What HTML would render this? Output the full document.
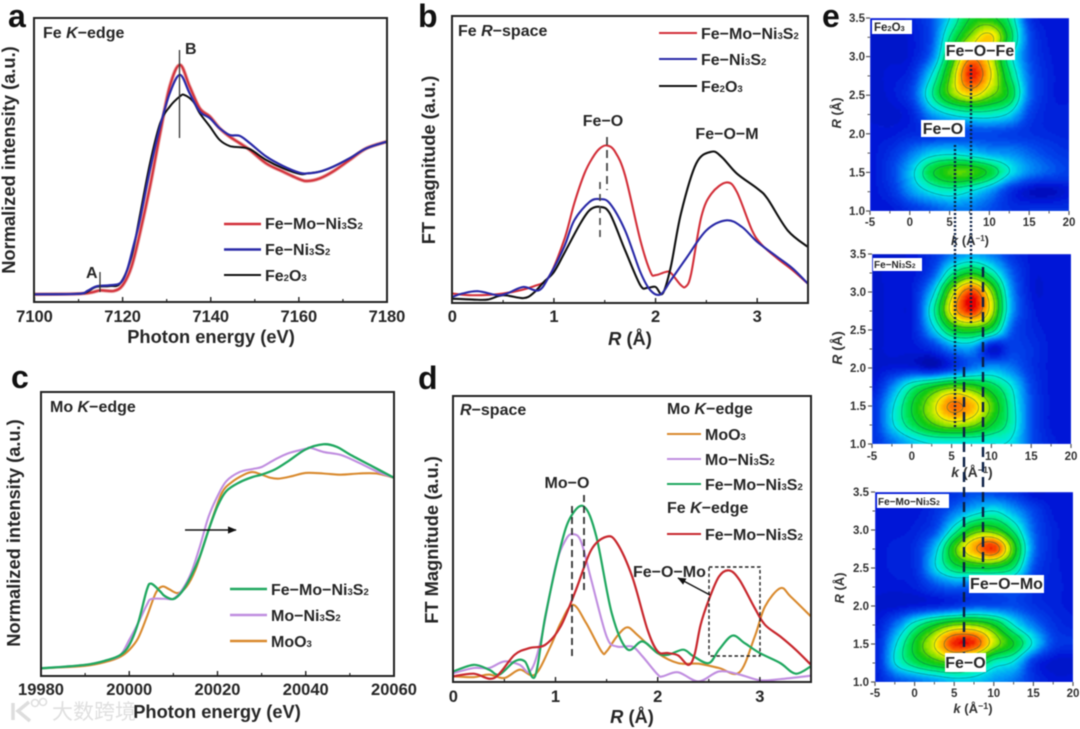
<!DOCTYPE html>
<html lang="en">
<head>
<meta charset="utf-8">
<title>XAFS figure</title>
<style>
html,body{margin:0;padding:0;background:#fff;width:1080px;height:729px;overflow:hidden}
svg{display:block;filter:blur(0.6px)}
text{font-family:"Liberation Sans","Noto Sans CJK SC",sans-serif;font-weight:bold;fill:#262626}
.tick{font-size:16.5px}
.title{font-size:18.3px}
.note{font-size:16px}
.leg{font-size:16px}
.sub{font-size:9.5px}
.et{font-size:11.5px;fill:#333}
.pl{font-size:32px;fill:#111}
.frame{fill:none;stroke:#222;stroke-width:2}
</style>
</head>
<body>
<svg id="fig" xmlns="http://www.w3.org/2000/svg" width="1080" height="729" viewBox="0 0 1080 729">
<defs>
<clipPath id="clip-a"><rect x="34" y="18" width="353" height="284"/></clipPath>
<clipPath id="clip-b"><rect x="452" y="16" width="356" height="287"/></clipPath>
<clipPath id="clip-c"><rect x="41" y="392" width="353" height="284"/></clipPath>
<clipPath id="clip-d"><rect x="453" y="396" width="358" height="286"/></clipPath>
<clipPath id="clip-e1"><rect x="870" y="18" width="199" height="193"/></clipPath>
<clipPath id="clip-e2"><rect x="872" y="254" width="199" height="190"/></clipPath>
<clipPath id="clip-e3"><rect x="875" y="492" width="198" height="190"/></clipPath>
<filter id="heat-soft" x="-5%" y="-5%" width="110%" height="110%"><feGaussianBlur stdDeviation="0.6"/></filter>
<marker id="arrow-head" markerWidth="6" markerHeight="5" refX="5.5" refY="2.5" orient="auto"><path d="M0 0L6 2.5L0 5z" fill="#111"/></marker>
</defs>

<g id="layer-a" clip-path="url(#clip-a)"></g>
<g id="layer-b" clip-path="url(#clip-b)"></g>
<g id="layer-c" clip-path="url(#clip-c)"></g>
<g id="layer-d" clip-path="url(#clip-d)"></g>
<g id="layer-e1" clip-path="url(#clip-e1)"></g>
<g id="layer-e2" clip-path="url(#clip-e2)"></g>
<g id="layer-e3" clip-path="url(#clip-e3)"></g>
<g id="axes"></g>

<!-- panel a -->
<rect class="frame" x="34" y="18" width="353" height="284"/>
<text class="pl" x="8" y="27">a</text>
<text class="note" x="43" y="38">Fe <tspan font-style="italic">K</tspan>−edge</text>
<text class="title" x="211" y="343" text-anchor="middle">Photon energy (eV)</text>
<text class="title" transform="translate(15 160) rotate(-90)" text-anchor="middle">Normalized intensity (a.u.)</text>
<line x1="179.5" y1="50" x2="179.5" y2="138" stroke="#333" stroke-width="1.3"/>
<line x1="100" y1="272" x2="100" y2="292" stroke="#333" stroke-width="1.3"/>
<text class="note" x="185" y="54">B</text>
<text class="note" x="86" y="278">A</text>
<g>
<line x1="224" y1="224" x2="261" y2="224" stroke="#d3303a" stroke-width="2.4"/>
<line x1="224" y1="249.500" x2="261" y2="249.500" stroke="#2a2aa8" stroke-width="2.4"/>
<line x1="224" y1="275" x2="261" y2="275" stroke="#111" stroke-width="2.1"/>
<text class="leg" x="265" y="229">Fe−Mo−Ni<tspan class="sub">3</tspan>S<tspan class="sub">2</tspan></text>
<text class="leg" x="265" y="255">Fe−Ni<tspan class="sub">3</tspan>S<tspan class="sub">2</tspan></text>
<text class="leg" x="265" y="281">Fe<tspan class="sub">2</tspan>O<tspan class="sub">3</tspan></text>
</g>

<!-- panel b -->
<rect class="frame" x="452" y="16" width="356" height="287"/>
<text class="pl" x="418" y="27">b</text>
<text class="note" x="458" y="36">Fe <tspan font-style="italic">R</tspan>−space</text>
<text class="title" x="630" y="345" text-anchor="middle"><tspan font-style="italic">R</tspan> (Å)</text>
<text class="title" transform="translate(435 160) rotate(-90)" text-anchor="middle">FT magnitude (a.u.)</text>
<text class="leg" x="603" y="126" text-anchor="middle">Fe−O</text>
<text class="leg" x="727" y="139" text-anchor="middle">Fe−O−M</text>
<line x1="607" y1="137" x2="607" y2="190" stroke="#444" stroke-width="1.8" stroke-dasharray="8 5"/>
<line x1="600" y1="182" x2="600" y2="241" stroke="#444" stroke-width="1.6" stroke-dasharray="7 5"/>
<g>
<line x1="659" y1="33" x2="697" y2="33" stroke="#d3303a" stroke-width="2.1"/>
<line x1="659" y1="59" x2="697" y2="59" stroke="#2a2aa8" stroke-width="2.1"/>
<line x1="659" y1="86" x2="697" y2="86" stroke="#111" stroke-width="2.1"/>
<text class="leg" x="701" y="39">Fe−Mo−Ni<tspan class="sub">3</tspan>S<tspan class="sub">2</tspan></text>
<text class="leg" x="701" y="65">Fe−Ni<tspan class="sub">3</tspan>S<tspan class="sub">2</tspan></text>
<text class="leg" x="701" y="92">Fe<tspan class="sub">2</tspan>O<tspan class="sub">3</tspan></text>
</g>

<!-- panel c -->
<rect class="frame" x="41" y="392" width="353" height="284"/>
<text class="pl" x="11" y="388">c</text>
<text class="note" x="50" y="412">Mo <tspan font-style="italic">K</tspan>−edge</text>
<text class="title" x="217" y="718" text-anchor="middle">Photon energy (eV)</text>
<text class="title" transform="translate(20 533) rotate(-90)" text-anchor="middle">Normalized intensity (a.u.)</text>
<line x1="185" y1="530" x2="236" y2="530" stroke="#111" stroke-width="1.5" marker-end="url(#arrow-head)"/>
<g>
<line x1="230" y1="589" x2="267" y2="589" stroke="#20a860" stroke-width="2.4"/>
<line x1="230" y1="615" x2="267" y2="615" stroke="#c08ee0" stroke-width="2.4"/>
<line x1="230" y1="641" x2="267" y2="641" stroke="#d98a2e" stroke-width="2.4"/>
<text class="leg" x="271" y="595">Fe−Mo−Ni<tspan class="sub">3</tspan>S<tspan class="sub">2</tspan></text>
<text class="leg" x="271" y="621">Mo−Ni<tspan class="sub">3</tspan>S<tspan class="sub">2</tspan></text>
<text class="leg" x="271" y="647">MoO<tspan class="sub">3</tspan></text>
</g>

<!-- panel d -->
<rect class="frame" x="453" y="396" width="358" height="286"/>
<text class="pl" x="418" y="389">d</text>
<text class="note" x="460" y="415"><tspan font-style="italic">R</tspan>−space</text>
<text class="title" x="632" y="723" text-anchor="middle"><tspan font-style="italic">R</tspan> (Å)</text>
<text class="title" transform="translate(438 540) rotate(-90)" text-anchor="middle">FT Magnitude (a.u.)</text>
<text class="leg" x="567" y="488" text-anchor="middle">Mo−O</text>
<text class="leg" x="633" y="577">Fe−O−Mo</text>
<line x1="572" y1="506" x2="572" y2="658" stroke="#333" stroke-width="1.8" stroke-dasharray="7 4"/>
<line x1="584" y1="495" x2="584" y2="590" stroke="#333" stroke-width="1.8" stroke-dasharray="7 4"/>
<rect x="709" y="567" width="51" height="89" fill="none" stroke="#222" stroke-width="1.4" stroke-dasharray="3.500 2.500"/>
<line x1="710" y1="595" x2="678" y2="578" stroke="#111" stroke-width="1.4" marker-end="url(#arrow-head)"/>
<g>
<text class="note" x="667" y="414">Mo <tspan font-style="italic">K</tspan>−edge</text>
<line x1="667" y1="434" x2="701" y2="434" stroke="#d98a2e" stroke-width="2.1"/>
<line x1="667" y1="459" x2="701" y2="459" stroke="#c08ee0" stroke-width="2.1"/>
<line x1="667" y1="484" x2="701" y2="484" stroke="#20a860" stroke-width="2.1"/>
<line x1="667" y1="534" x2="701" y2="534" stroke="#c8282e" stroke-width="2.1"/>
<text class="leg" x="705" y="440">MoO<tspan class="sub">3</tspan></text>
<text class="leg" x="705" y="465">Mo−Ni<tspan class="sub">3</tspan>S<tspan class="sub">2</tspan></text>
<text class="leg" x="705" y="490">Fe−Mo−Ni<tspan class="sub">3</tspan>S<tspan class="sub">2</tspan></text>
<text class="note" x="667" y="513">Fe <tspan font-style="italic">K</tspan>−edge</text>
<text class="leg" x="705" y="540">Fe−Mo−Ni<tspan class="sub">3</tspan>S<tspan class="sub">2</tspan></text>
</g>

<!-- panel e -->
<text class="pl" x="822" y="27">e</text>
<text class="et" style="font-size:13px" transform="translate(841 113) rotate(-90)" text-anchor="middle"><tspan font-style="italic">R</tspan> (Å)</text>
<text class="et" style="font-size:14px" transform="translate(842 348) rotate(-90)" text-anchor="middle"><tspan font-style="italic">R</tspan> (Å)</text>
<text class="et" style="font-size:13px" transform="translate(844 588) rotate(-90)" text-anchor="middle"><tspan font-style="italic">R</tspan> (Å)</text>
<text class="et" style="font-size:13px" x="970" y="245" text-anchor="middle"><tspan font-style="italic">k</tspan> (Å<tspan font-size="8" dy="-4">−1</tspan><tspan dy="4">)</tspan></text>
<text class="et" style="font-size:14px" x="972" y="477" text-anchor="middle"><tspan font-style="italic">k</tspan> (Å<tspan font-size="9" dy="-4">−1</tspan><tspan dy="4">)</tspan></text>
<text class="et" style="font-size:13px" x="973" y="713" text-anchor="middle"><tspan font-style="italic">k</tspan> (Å<tspan font-size="9" dy="-4">−1</tspan><tspan dy="4">)</tspan></text>

<line x1="955" y1="145" x2="955" y2="428" stroke="#0b1f44" stroke-width="2.4" stroke-dasharray="2 2"/>
<line x1="971" y1="65" x2="971" y2="323" stroke="#0b1f44" stroke-width="2.4" stroke-dasharray="2 2"/>
<line x1="983" y1="267" x2="983" y2="568" stroke="#0b1f44" stroke-width="2.4" stroke-dasharray="10 5"/>
<line x1="964" y1="367" x2="964" y2="653" stroke="#0b1f44" stroke-width="2.4" stroke-dasharray="10 5"/>

<g>
<rect x="872" y="20" width="40" height="14" fill="#fff"/>
<text style="font-size:11.5px" x="874" y="31">Fe<tspan font-size="7.5">2</tspan>O<tspan font-size="7.5">3</tspan></text>
<rect x="945" y="42" width="70" height="18" fill="#fff"/>
<text class="leg" x="980" y="56" text-anchor="middle">Fe−O−Fe</text>
<rect x="921" y="120" width="44" height="17" fill="#fff"/>
<text class="leg" x="943" y="134" text-anchor="middle">Fe−O</text>
</g>
<g>
<rect x="873" y="258" width="49" height="13" fill="#fff"/>
<text style="font-size:10px" x="874" y="268">Fe−Ni<tspan font-size="6.5">3</tspan>S<tspan font-size="6.5">2</tspan></text>
</g>
<g>
<rect x="877" y="494" width="72" height="14" fill="#fff"/>
<text style="font-size:10px" x="878" y="505">Fe−Mo−Ni<tspan font-size="6.5">3</tspan>S<tspan font-size="6.5">2</tspan></text>
<rect x="969" y="575" width="75" height="18" fill="#fff"/>
<text class="leg" x="1006.500" y="589" text-anchor="middle">Fe−O−Mo</text>
<rect x="945" y="653" width="41" height="19" fill="#fff"/>
<text class="leg" x="965.500" y="668" text-anchor="middle">Fe−O</text>
</g>

<g id="tick-labels"></g>

<g opacity="0.95">
<path d="M13 703V720M29 702L18 711L30 721" fill="none" stroke="#dcdcdc" stroke-width="3.500"/>
<circle cx="35" cy="703" r="3.500" fill="none" stroke="#dcdcdc" stroke-width="1.500"/>
<circle cx="43" cy="702" r="3.500" fill="none" stroke="#dcdcdc" stroke-width="1.500"/>
<text x="52" y="719" style="font-size:21px;fill:#dedede;font-weight:normal">大数跨境</text>
</g>
</svg>

<script>
// ---- Panel a: Fe K-edge XANES (normalized intensity, 0-100 of frame) ----
const aXRed=[7100,7110,7113,7115,7118,7120,7122,7123.9,7126.2,7128.5,7130.7,7133,7135.2,7137.5,7139.8,7142,7144.3,7146.6,7148.9,7152.6,7156.4,7160.2,7162,7164.7,7167.7,7171.5,7175.3,7180];
const aYRed=[2.7,2.9,3.4,4.1,3.9,5.9,12.4,24.1,40.6,59.4,75.9,83.5,75.9,68.2,65.3,61.2,58.2,55.9,53.5,48.8,45.9,43.2,42.6,43.5,45.9,50,54.1,56.5];
const aXBlue=[7100,7110,7112,7114,7117,7119.5,7121,7122.4,7123.9,7126.2,7128.5,7130.7,7133,7135.2,7137.5,7139.8,7142,7144.3,7146.6,7148.9,7152.6,7156.4,7160.2,7162,7164.7,7167.7,7171.5,7175.3,7180];
const aYBlue=[2.7,2.9,3.9,5.5,5.9,6.7,11.2,19.4,28.8,46.5,61.8,73.5,80,73.5,67.1,64.7,61.2,58.8,58.5,55.9,51.2,47.9,45.5,45.3,45.9,47.6,50.6,54.1,56.5];
const aXBlack=[7100,7110,7112,7114,7117,7119.5,7122,7124,7126.2,7128.5,7130.7,7133,7134,7136,7137.5,7139.8,7142,7144.3,7146.6,7148.9,7152.6,7156.4,7160.2,7162,7164.7,7167.7,7171.5,7175.3,7180];
const aYBlack=[2.7,2.9,3.6,5.3,5.6,6.7,15.9,31.2,48.8,62.9,68.8,72.4,72.9,70.6,66.5,61.8,57.1,54.9,54.5,53.8,50,47.1,45.1,45.3,45.9,47.6,50.6,54.1,56.5];
const aMajor=[7100,7120,7140,7160,7180];
const aMinor=[7110,7130,7150,7170];

// ---- Panel b: Fe R-space ----
const bXRed=[0,.2,.5,.8,.95,1.1,1.2,1.3,1.38,1.45,1.52,1.6,1.7,1.85,1.95,2,2.1,2.15,2.25,2.3,2.35,2.45,2.55,2.7,2.8,2.95,3.05,3.2,3.35,3.5];
const bYRed=[3.3,2.7,3.3,5.8,9.1,21.9,34.7,45.1,50.6,53.8,54.9,52.8,44.5,21.9,10.8,9.7,10.8,10.5,6.2,5.8,10.2,30,38.1,42,38.7,25.3,20.1,15.5,11.4,6.7];
const bXBlue=[0,.1,.25,.45,.55,.7,.85,.95,1.1,1.2,1.35,1.45,1.55,1.7,1.85,1.95,2.05,2.15,2.3,2.5,2.7,2.85,3,3.2,3.35,3.5];
const bYBlue=[2.1,3.3,4.1,2.7,3.5,5.6,4.4,9.1,19.5,28.8,35.2,36.2,34.7,25.3,10.8,4.4,3,7.9,15.5,25.3,28.8,26.5,21.3,16,12,6.7];
const bXBlack=[0,.2,.35,.5,.7,.8,.9,1,1.1,1.25,1.35,1.45,1.55,1.7,1.85,1.92,2,2.07,2.15,2.25,2.4,2.55,2.65,2.8,3,3.1,3.3,3.5];
const bYBlack=[1.5,1.2,1.2,2.7,1.7,3.5,7.3,10.8,17.2,27.1,32.3,33.5,31.2,18.4,6.2,5.3,5.6,3.3,12.6,31.2,48.6,52.7,50.9,45.1,39.9,36.4,25.3,19.5];
const rMajor=[0,1,2,3];
const rMinor=[.5,1.5,2.5];

// ---- Panel c: Mo K-edge XANES ----
const cXGreen=[19980,19990,19995,19998,20000,20002,20004,20005,20007,20008,20010,20012,20014,20016,20018,20020,20022,20025,20028,20030,20033,20036,20040,20044,20047,20050,20055,20060];
const cYGreen=[2.7,3.9,5.6,7.4,10.9,18.6,30.4,32.5,29.8,28.2,27.1,29.8,35.1,42.1,51.5,59.8,65.1,68.2,70.1,70.9,72.7,75.6,79.8,81.6,80.7,78,73.9,69.8];
const cXPurple=[19980,19990,19995,19998,20000,20002,20004,20005,20008,20010,20012,20014,20016,20018,20020,20022,20025,20028,20030,20033,20036,20040,20041,20044,20048,20052,20056,20060];
const cYPurple=[2.7,3.9,5.6,7.4,12.7,18.6,25.1,27.1,27.2,27.2,30.4,36.2,45.6,56.2,63.3,68.6,71.8,72.9,73.6,76.2,78.4,80,80.4,78.9,77.8,75.1,72.1,69.8];
const cXOrange=[19980,19990,19995,19998,20000,20002,20004,20006,20007.5,20009,20011,20013,20015,20017,20019,20021,20023,20026,20028,20030,20032,20034,20037,20040,20044,20048,20052,20056,20060];
const cYOrange=[2.7,3.6,5.1,6.8,9.2,13.3,20.9,29.2,31.5,30.6,29.2,31.5,37.4,46.8,56.2,64.5,68,70.9,71.8,70.9,69.8,69.5,70.4,71.5,71.3,70.9,71.3,71.3,69.8];
const cMajor=[19980,20000,20020,20040,20060];
const cMinor=[19990,20010,20030,20050];

// ---- Panel d: R-space ----
const dXOrange=[0,.2,.35,.5,.65,.8,.95,1.05,1.17,1.3,1.45,1.5,1.6,1.7,1.8,2,2.2,2.4,2.6,2.8,2.95,3.05,3.2,3.3,3.5];
const dYOrange=[2,1.7,2.6,1.4,4.3,2.6,12.4,20.6,27,20.6,10.7,10.7,15.9,19.1,16.5,10.1,6.6,6.4,4.9,3.4,15.9,26.4,32.8,29.9,22.9];
const dXPurple=[0,.2,.35,.5,.65,.75,.85,1,1.1,1.17,1.25,1.35,1.5,1.6,1.75,1.85,2,2.05,2.2,2.4,2.6,2.8,3,3.2,3.5];
const dYPurple=[3.1,4.9,4.9,7.2,6,3.7,13.6,40.3,49.7,51.7,49.1,35.7,15.9,12.4,12.4,9,2.6,2,3.4,.2,3.7,2.6,.6,1,2.2];
const dXGreen=[0,.2,.35,.45,.6,.7,.8,.9,1.05,1.15,1.28,1.4,1.55,1.7,1.85,2,2.1,2.25,2.35,2.5,2.6,2.73,2.85,3,3.2,3.35,3.5];
const dYGreen=[3.7,6,4.3,2.6,7.2,7.2,2,22.9,47.3,57.8,61.3,50.8,24.1,11.5,14.2,10.1,9.5,11.3,9,6.6,11.3,16.2,13.6,10.1,6.6,2.9,5.5];
const dXRed=[0,.2,.4,.6,.75,.9,1.05,1.2,1.35,1.5,1.6,1.75,1.9,2,2.1,2.2,2.3,2.36,2.42,2.5,2.6,2.7,2.8,2.95,3.05,3.2,3.35,3.5];
const dYRed=[2,2.9,1.4,9.5,11.9,13,19.4,32.2,46.2,50.8,48.7,36.9,18.3,10.7,10.1,9.3,6,9.5,20,28.7,36.9,39,35.7,25.8,20,15.9,11.3,6];

// ---- Panel e: wavelet-transform heatmaps (intensity 0-10) ----
const heatK=[-5,-2.5,0,2.5,5,7.5,10,12.5,15,17.5,20];
const heatR=[1,1.25,1.5,1.75,2,2.25,2.5,2.75,3,3.25,3.5];
const heatLevels=[4,5,6,7,8,9];
const heatFe2O3=[
[1,1,1.5,2,2.5,2.5,2,1.5,1.5,1.5,1.5],
[1,1.5,3,4,4.5,4,3,1.5,.7,.6,1],
[1,1.8,3.5,5.7,6.8,6.8,5.8,4,2.8,2.2,1.8],
[1,1.5,2.5,3.5,3.8,3.5,3,2.8,2.3,1.8,1.5],
[1,1,1.3,1.5,1.8,2,2,1.8,1.5,1.3,1.2],
[.8,.8,1.2,3,4,4.5,4.5,3.8,1.8,1.2,1.2],
[.8,1,1.8,4.6,7,8.2,7.2,5.8,2.4,1.2,1],
[.8,1,1.4,3.8,7,9.8,8.2,5.2,2.3,1.2,1],
[.8,.8,1,2.4,6,8.8,7.8,4.5,2,1.1,1],
[.8,.8,1,2,5,7.2,8.3,5.6,2,1,1],
[1,1,1.2,2,4,6,6.3,4.8,1.5,1,1]
];
const heatFeNi3S2=[
[1.5,2.5,3.5,4,4,4,4,3.8,2,1.2,1],
[1.5,3.8,5.5,6.8,7.5,7.2,6,4.5,2,1,1],
[1.5,3.8,6,7.6,9.2,8.5,6.8,4.5,2,1,1],
[1,2.8,4.8,6,6.8,6.5,5.5,4,1.8,1,1],
[.8,1,1,.6,1.5,2.5,3,2.5,1.5,1,1],
[.8,1,1,1.5,2.8,3,.8,1.8,1.5,1,1],
[.8,1,1.2,3.5,6,6.5,5.5,2.2,1.3,1,1],
[.8,1,1.2,4.5,8.3,9.8,7.5,3,1.2,1,1],
[.8,1,1.2,3.5,7.5,9.5,7,2.8,1,1,1],
[.8,1,1,2,4.8,6,4.5,2.2,1,1,1],
[.8,.8,1,1.5,2.5,3,2.5,1.5,1,1,1]
];
const heatFeMoNi3S2=[
[1.2,2,2.5,3,3.5,3.5,3,2.5,1.5,1,1],
[1.2,4,5.5,6.5,7,6,4.5,3.8,1.5,.8,.8],
[1.2,3.8,6.2,8,9.8,9.6,7.5,6,3.8,1.8,1.5],
[1,2.5,4.5,6,7,7,6,4,2.5,1.5,1.2],
[.8,.8,1,1.2,1.5,2,2,2,1.5,1.2,1],
[1,1,1.2,2,2.5,2.2,2.5,2.5,1.5,1.2,1],
[1,1.2,1.5,3.8,5.5,6,6,5,2,1.2,1],
[1,1.2,1.5,3.5,6.8,8.8,9.6,6.5,2.5,1.2,1],
[1,1,1.2,2,4.5,6.5,6.5,4.8,2.2,1.2,1],
[1,1,1,1.5,2.5,3.5,4,3,1.8,1,1],
[1,1,1,1.2,1.5,2,1.8,1.5,.8,1,1]
];
const heatKMajor=[-5,0,5,10,15,20];
const heatKMinor=[-2.5,2.5,7.5,12.5,17.5];
const heatRMajor=[1,1.5,2,2.5,3,3.5];
const heatRMinor=[1.25,1.75,2.25,2.75,3.25];
const heatRLabels=['1.0','1.5','2.0','2.5','3.0','3.5'];

const NS='http://www.w3.org/2000/svg';
function linear(d0,d1,r0,r1){return v=>r0+(v-d0)/(d1-d0)*(r1-r0);}

function smoothPath(xs,ys,sx,sy){
  const p=xs.map((x,i)=>[sx(x),sy(ys[i])]);
  let d='M'+p[0][0].toFixed(2)+' '+p[0][1].toFixed(2);
  for(let i=0;i<p.length-1;i++){
    const a=p[Math.max(i-1,0)],b=p[i],c=p[i+1],e=p[Math.min(i+2,p.length-1)];
    const c1=[b[0]+(c[0]-a[0])/6,b[1]+(c[1]-a[1])/6];
    const c2=[c[0]-(e[0]-b[0])/6,c[1]-(e[1]-b[1])/6];
    d+='C'+c1[0].toFixed(2)+' '+c1[1].toFixed(2)+' '+c2[0].toFixed(2)+' '+c2[1].toFixed(2)+' '+c[0].toFixed(2)+' '+c[1].toFixed(2);
  }
  return d;
}
function drawLine(layerId,xs,ys,sx,sy,color,width,name){
  const el=document.createElementNS(NS,'path');
  el.setAttribute('d',smoothPath(xs,ys,sx,sy));
  el.setAttribute('fill','none');
  el.setAttribute('stroke',color);
  el.setAttribute('stroke-width',width);
  el.setAttribute('stroke-linejoin','round');
  
  
  document.getElementById(layerId).appendChild(el);
}
function addTick(x1,y1,x2,y2,color,width){
  const el=document.createElementNS(NS,'line');
  el.setAttribute('x1',x1);el.setAttribute('y1',y1);el.setAttribute('x2',x2);el.setAttribute('y2',y2);
  el.setAttribute('stroke',color);el.setAttribute('stroke-width',width);
  
  
  document.getElementById('axes').appendChild(el);
}
function addLabel(x,y,str,anchor,cls){
  const el=document.createElementNS(NS,'text');
  el.setAttribute('x',x);el.setAttribute('y',y);
  el.setAttribute('text-anchor',anchor);
  el.setAttribute('class',cls);
  el.textContent=str;
  
  
  document.getElementById('tick-labels').appendChild(el);
}
function xAxis(major,minor,sx,bottom,labelY){
  major.forEach(v=>{addTick(sx(v),bottom,sx(v),bottom-5,'#222',1.4);addLabel(sx(v),labelY,String(v),'middle','tick');});
  minor.forEach(v=>addTick(sx(v),bottom,sx(v),bottom-3,'#222',1.2));
}

// Panel a
const ax=linear(7100,7180,34.5,387), ay=linear(0,100,302,18);
drawLine('layer-a',aXRed,aYRed,ax,ay,'#e8a0a0',3.8,'series-fe-mo-ni3s2-halo');
drawLine('layer-a',aXRed,aYRed,ax,ay,'#d3303a',2,'series-fe-mo-ni3s2');
drawLine('layer-a',aXBlack,aYBlack,ax,ay,'#111',2,'series-fe2o3');
drawLine('layer-a',aXBlue,aYBlue,ax,ay,'#2a2aa8',2.2,'series-fe-ni3s2');
xAxis(aMajor,aMinor,ax,302,322);

// Panel b
const bx=linear(0,3.5,452.3,808), by=linear(0,100,303,16);
drawLine('layer-b',bXRed,bYRed,bx,by,'#d3303a',2.1,'series-fe-mo-ni3s2');
drawLine('layer-b',bXBlack,bYBlack,bx,by,'#111',2.1,'series-fe2o3');
drawLine('layer-b',bXBlue,bYBlue,bx,by,'#2a2aa8',2.1,'series-fe-ni3s2');
xAxis(rMajor,rMinor,bx,303,322);

// Panel c
const cx=linear(19980,20060,41,394), cy=linear(0,100,676,392);
drawLine('layer-c',cXOrange,cYOrange,cx,cy,'#d98a2e',2.1,'series-moo3');
drawLine('layer-c',cXPurple,cYPurple,cx,cy,'#c08ee0',2.1,'series-mo-ni3s2');
drawLine('layer-c',cXGreen,cYGreen,cx,cy,'#20a860',2.3,'series-fe-mo-ni3s2');
xAxis(cMajor,cMinor,cx,676,695);

// Panel d
const dx=linear(0,3.5,453.3,811), dy=linear(0,100,682,396);
drawLine('layer-d',dXOrange,dYOrange,dx,dy,'#d98a2e',2.1,'series-moo3');
drawLine('layer-d',dXPurple,dYPurple,dx,dy,'#c08ee0',2.1,'series-mo-ni3s2');
drawLine('layer-d',dXGreen,dYGreen,dx,dy,'#20a860',2.2,'series-fe-mo-ni3s2-mo-edge');
drawLine('layer-d',dXRed,dYRed,dx,dy,'#c8282e',2.2,'series-fe-mo-ni3s2-fe-edge');
xAxis(rMajor,rMinor,dx,682,702);

// Heatmaps
const colorStops=[[0,[0,0,150]],[1,[5,25,215]],[2,[0,70,235]],[3,[0,150,248]],[4,[0,232,232]],[4.8,[0,240,160]],[5.5,[0,224,80]],[6.5,[16,200,16]],[7.2,[128,224,0]],[8,[248,240,0]],[8.8,[255,160,0]],[9.6,[248,64,0]],[10,[232,0,0]]];
function colorFor(v){
  for(let i=1;i<colorStops.length;i++){
    if(v<=colorStops[i][0]){
      const a=colorStops[i-1],b=colorStops[i],t=(v-a[0])/(b[0]-a[0]);
      const c=a[1].map((q,j)=>Math.round(q+(b[1][j]-q)*t));
      return 'rgb('+c.join(',')+')';
    }
  }
  return 'rgb(232,0,0)';
}
function cubic(a,b,c,d,t){return b+.5*t*(c-a+t*(2*a-5*b+4*c-d+t*(3*(b-c)+d-a)));}
function sampleGrid(g,u,v){
  const n=g.length,m=g[0].length;
  const i=Math.min(Math.floor(v),n-2),j=Math.min(Math.floor(u),m-2),tv=v-i,tu=u-j;
  const rowAt=r=>{
    const row=g[Math.max(0,Math.min(n-1,r))];
    return cubic(row[Math.max(j-1,0)],row[j],row[j+1],row[Math.min(j+2,m-1)],tu);
  };
  const val=cubic(rowAt(i-1),rowAt(i),rowAt(i+1),rowAt(i+2),tv);
  return Math.max(0,Math.min(10,val));
}
function drawHeat(layerId,grid,sx,sy,name){
  const layer=document.getElementById(layerId);
  const wrap=document.createElementNS(NS,'g');
  wrap.setAttribute('filter','url(#heat-soft)');
  
  
  layer.appendChild(wrap);
  const N=100;
  const kMin=heatK[0],kMax=heatK[heatK.length-1],rMin=heatR[0],rMax=heatR[heatR.length-1];
  const samples=[];
  for(let b=0;b<=N;b++){
    const line=[];
    for(let a=0;a<=N;a++){line.push(sampleGrid(grid,a/N*(grid[0].length-1),b/N*(grid.length-1)));}
    samples.push(line);
  }
  const px=a=>sx(kMin+a/N*(kMax-kMin));
  const py=b=>sy(rMin+b/N*(rMax-rMin));
  const bands={};
  for(let b=0;b<N;b++){
    let a=0;
    while(a<N){
      const key=Math.round(samples[b][a]/.2);
      let e=a+1;
      while(e<N&&Math.round(samples[b][e]/.2)===key)e++;
      const x=px(a),w=px(e)-x+.4,y=py(b+1),h=py(b)-y+.4;
      bands[key]=(bands[key]||'')+'M'+x.toFixed(1)+' '+y.toFixed(1)+'h'+w.toFixed(1)+'v'+h.toFixed(1)+'h-'+w.toFixed(1)+'z';
      a=e;
    }
  }
  Object.keys(bands).forEach(key=>{
    const el=document.createElementNS(NS,'path');
    el.setAttribute('d',bands[key]);
    el.setAttribute('fill',colorFor(key*.2));
    
    
    wrap.appendChild(el);
  });
  let d='';
  heatLevels.forEach(L=>{
    for(let b=0;b<N;b++)for(let a=0;a<N;a++){
      const q=[samples[b][a],samples[b][a+1],samples[b+1][a+1],samples[b+1][a]];
      const pts=[];
      const edge=(v1,v2,x1,y1,x2,y2)=>{
        if((v1<L)!==(v2<L)){const t=(L-v1)/(v2-v1);pts.push([px(x1+(x2-x1)*t),py(y1+(y2-y1)*t)]);}
      };
      edge(q[0],q[1],a,b,a+1,b);
      edge(q[1],q[2],a+1,b,a+1,b+1);
      edge(q[2],q[3],a+1,b+1,a,b+1);
      edge(q[3],q[0],a,b+1,a,b);
      for(let i=0;i+1<pts.length;i+=2){
        d+='M'+pts[i][0].toFixed(1)+' '+pts[i][1].toFixed(1)+'L'+pts[i+1][0].toFixed(1)+' '+pts[i+1][1].toFixed(1);
      }
    }
  });
  const c=document.createElementNS(NS,'path');
  c.setAttribute('d',d);
  c.setAttribute('fill','none');
  c.setAttribute('stroke','#0a5a50');
  c.setAttribute('stroke-opacity','.55');
  c.setAttribute('stroke-width','.7');
  
  
  layer.appendChild(c);
}
function heatAxes(sx,sy,bottom,left,labelRight,labelY){
  heatRMajor.forEach((v,i)=>{addTick(left,sy(v),left-4,sy(v),'#555',1.2);addLabel(labelRight,sy(v)+4,heatRLabels[i],'end','et');});
  heatRMinor.forEach(v=>addTick(left,sy(v),left-2.5,sy(v),'#555',1));
  heatKMajor.forEach(v=>{addTick(sx(v),bottom,sx(v),bottom+4,'#555',1.2);addLabel(sx(v),labelY,String(v),'middle','et');});
  heatKMinor.forEach(v=>addTick(sx(v),bottom,sx(v),bottom+2.5,'#555',1));
}
const e1x=linear(-5,20,870,1069), e1y=linear(1,3.5,211,18);
const e2x=linear(-5,20,872,1071), e2y=linear(1,3.5,444,254);
const e3x=linear(-5,20,875,1073), e3y=linear(1,3.5,682,492);
drawHeat('layer-e1',heatFe2O3,e1x,e1y,'heat-fe2o3');
drawHeat('layer-e2',heatFeNi3S2,e2x,e2y,'heat-fe-ni3s2');
drawHeat('layer-e3',heatFeMoNi3S2,e3x,e3y,'heat-fe-mo-ni3s2');
heatAxes(e1x,e1y,211,870,865,226);
heatAxes(e2x,e2y,444,872,866,460);
heatAxes(e3x,e3y,682,875,869,697);
</script>
</body>
</html>
